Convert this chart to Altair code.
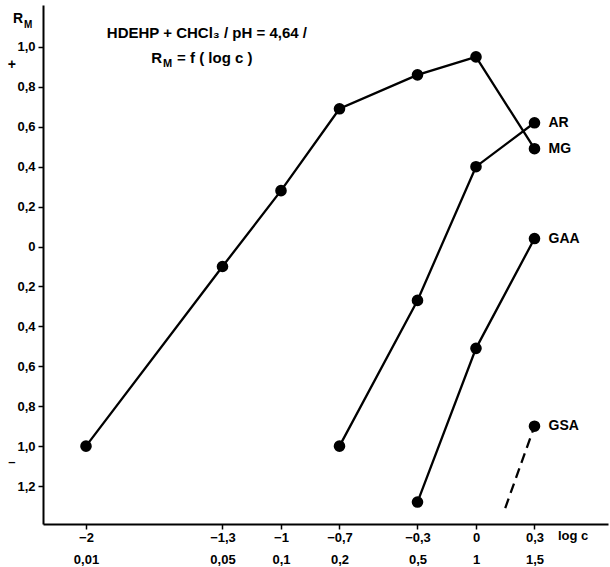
import altair as alt
import pandas as pd

# ---------------- data ----------------
mg_x = [-2.0, -1.3, -1.0, -0.7, -0.3, 0.0, 0.3]
mg_y = [-1.0, -0.1, 0.28, 0.69, 0.86, 0.95, 0.49]
ar_x = [-0.7, -0.3, 0.0, 0.3]
ar_y = [-1.0, -0.27, 0.40, 0.62]
gaa_x = [-0.3, 0.0, 0.3]
gaa_y = [-1.28, -0.51, 0.04]
gsa_x = [0.3]
gsa_y = [-0.90]
gsa_dash_x = [0.15, 0.3]
gsa_dash_y = [-1.31, -0.90]

series_names = ["MG", "AR", "GAA", "GSA"]

x_ticks = [-2.0, -1.3, -1.0, -0.7, -0.3, 0.0, 0.3]
x_labels_log = ["\u22122", "\u22121,3", "\u22121", "\u22120,7", "\u22120,3", "0", "0,3"]
x_labels_c = ["0,01", "0,05", "0,1", "0,2", "0,5", "1", "1,5"]
y_ticks = [1.0, 0.8, 0.6, 0.4, 0.2, 0.0, -0.2, -0.4, -0.6, -0.8, -1.0, -1.2]

FONT = "Liberation Sans"

rows = []
for name, xs, ys in [("MG", mg_x, mg_y), ("AR", ar_x, ar_y), ("GAA", gaa_x, gaa_y), ("GSA", gsa_x, gsa_y)]:
    for i, (a, b) in enumerate(zip(xs, ys)):
        rows.append({"series": name, "x": a, "y": b, "order": i})
df = pd.DataFrame(rows)
df_dash = pd.DataFrame({"x": gsa_dash_x, "y": gsa_dash_y, "order": [0, 1]})
df_lab = pd.DataFrame([
    {"series": n, "x": df[df.series == n].x.iloc[-1], "y": df[df.series == n].y.iloc[-1]}
    for n in series_names
])

x_dom = [-2.2205, 0.677]
y_dom = [-1.39, 1.21]

xlab_expr = ""
for v, a, b in zip(x_ticks, x_labels_log, x_labels_c):
    xlab_expr += f"abs(datum.value - ({v})) < 0.01 ? ['{a}', '{b}'] : "
xlab_expr += "''"

ylab_expr = "datum.value == 0 ? '0' : replace(format(abs(datum.value), '.1f'), '.', ',')"

xs = alt.X("x:Q", scale=alt.Scale(domain=x_dom, nice=False, zero=False),
           axis=alt.Axis(values=x_ticks, labelExpr=xlab_expr, title=None,
                         labelLineHeight=22, labelBaseline="top", labelPadding=2,
                         tickSize=5, labelFlush=False, labelOverlap=False))
ys = alt.Y("y:Q", scale=alt.Scale(domain=y_dom, nice=False, zero=False),
           axis=alt.Axis(values=y_ticks, labelExpr=ylab_expr, title=None,
                         tickSize=5, labelPadding=3, labelFlush=False, labelOverlap=False))

base = alt.Chart(df)
lines = base.mark_line(color="black", strokeWidth=2.3).encode(
    x=xs, y=ys, detail="series:N", order="order:Q")
dash = alt.Chart(df_dash).mark_line(color="black", strokeWidth=2.3, strokeDash=[10, 6]).encode(
    x="x:Q", y="y:Q", order="order:Q")
pts = base.mark_circle(color="black", opacity=1, size=135).encode(x="x:Q", y="y:Q")
labs = alt.Chart(df_lab).mark_text(align="left", baseline="middle", dx=14, fontSize=14,
                                   font=FONT, fontWeight="bold", color="black").encode(
    x="x:Q", y="y:Q", text="series:N")


def txt(x, y, t, size=14, align="left", weight="bold"):
    return alt.Chart(pd.DataFrame({"x": [x], "y": [y], "t": [t]})).mark_text(
        fontSize=size, font=FONT, fontWeight=weight, color="black", align=align,
        baseline="middle").encode(x="x:Q", y="y:Q", text="t:N")


title1 = txt(-1.38, 1.07, "HDEHP + CHCl\u2083 / pH = 4,64 /", 15, "center")
title2_r = txt(-1.61, 0.945, "R", 15, "right")
title2_m = txt(-1.605, 0.913, "M", 11, "left")
title2_rest = txt(-1.533, 0.945, "= f ( log c )", 15, "left")

yt_r = txt(-2.323, 1.14, "R", 14, "right")
yt_m = txt(-2.318, 1.11, "M", 10, "left")
plus = txt(-2.38, 0.91, "+", 14, "center")
minus = txt(-2.38, -1.08, "\u2013", 13, "center")
logc = txt(0.42, -1.45, "log c", 13, "left")

chart = alt.layer(lines, dash, pts, labs, title1, title2_r, title2_m, title2_rest,
                  yt_r, yt_m, plus, minus, logc).properties(
    width=565, height=519,
    autosize=alt.AutoSizeParams(type="none"),
    padding={"left": 43, "top": 5, "right": 2, "bottom": 43},
    background="white",
).configure_view(stroke=None).configure_axis(
    domainColor="black", domainWidth=2, tickColor="black", tickWidth=1.5,
    grid=False, labelColor="black", labelFont=FONT, labelFontSize=13,
    labelFontWeight="bold",
)

chart.save("out.html", embed_options={"renderer": "svg", "actions": False})
